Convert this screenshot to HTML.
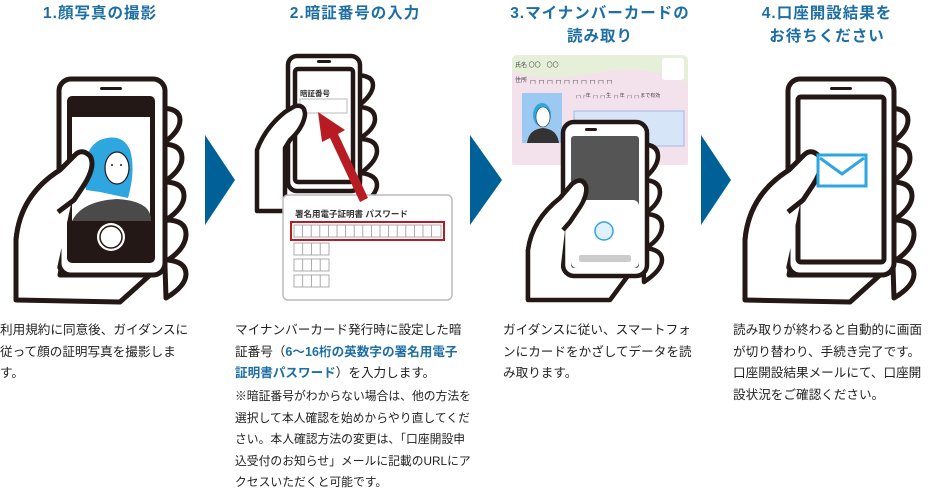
<!DOCTYPE html>
<html><head><meta charset="utf-8"><style>
html,body{margin:0;padding:0;background:#fff;width:931px;height:493px;overflow:hidden;position:relative;font-family:"Liberation Sans","Noto Sans CJK JP",sans-serif;}
.t{position:absolute;color:#1c6ea4;font-weight:bold;font-size:15.5px;text-align:center;line-height:23px;letter-spacing:1px;}
.p{position:absolute;font-size:12.6px;color:#222;line-height:21.5px;white-space:nowrap;}
.b{color:#1c6ea4;font-weight:bold;}
svg{position:absolute;left:0;top:0;}
</style></head><body>
<svg width="931" height="493" viewBox="0 0 931 493">
<g fill="#006199">
<polygon points="205,135 235,180 205,225"/>
<polygon points="470,135 502,180 470,225"/>
<polygon points="701,135 731,180 701,225"/>
</g>
<!-- Phone 1 -->
<g stroke="#231815" stroke-width="5" fill="#fff" stroke-linejoin="round">
<path d="M160,108 q20,0 20,12 q0,12 -18,24 q20,0 20,14 q0,12 -18,24 q20,0 20,14 q0,12 -18,24 q20,0 20,14 q0,14 -18,26 q18,2 18,14 q0,12 -20,24 Z"/>
<path d="M16,300 L16,240 Q20,195 60,170 L75,155 Q82,148 90,156 Q96,166 84,185 L74,200 L60,275 L150,275 L120,302 Z"/>
<rect x="59" y="79" width="106" height="196" rx="12"/>
</g>
<rect x="67" y="96" width="88" height="167" rx="5" fill="#231815"/>
<rect x="72" y="117" width="78" height="104" fill="#fff"/>
<path d="M86,190 q-6,-40 14,-50 q22,-8 30,10 q6,20 -2,48 L100,192 Z" fill="#2ea7e0"/>
<ellipse cx="117" cy="168" rx="12" ry="16" fill="#fff" stroke="#231815" stroke-width="1.2"/>
<circle cx="112" cy="165" r="1" fill="#231815"/><circle cx="121" cy="165" r="1" fill="#231815"/>
<path d="M72,221 q10,-20 45,-22 q35,2 34,22z" fill="#4a4a4a"/>
<circle cx="111" cy="237" r="14" fill="#fff"/><circle cx="111" cy="237" r="11" fill="#fff" stroke="#231815" stroke-width="1.5"/>
<rect x="100" y="87" width="22" height="3" rx="1.5" fill="#231815"/>
<path d="M18,298 L18,240 Q22,197 60,172 L75,157 Q82,150 88,157 Q93,166 82,184 L72,200 L56,273 Z" fill="#fff"/>
<path d="M16,300 L16,240 Q20,195 60,170 L75,155 Q82,148 90,156 Q96,166 84,185 L74,200 L58,212" fill="none" stroke="#231815" stroke-width="5" stroke-linejoin="round"/>
<!-- Phone 2 -->
<g stroke="#231815" stroke-width="4.5" fill="#fff" stroke-linejoin="round">
<path d="M355,75 q18,0 18,10 q0,10 -16,22 q18,0 18,12 q0,10 -16,20 q18,0 18,12 q0,10 -16,22 q16,2 16,12 q0,10 -18,22 Z"/>
<rect x="288" y="56" width="72" height="135" rx="9"/>
<rect x="295" y="69" width="58" height="113" rx="3"/>
</g>
<rect x="317" y="60" width="14" height="3" rx="1.5" fill="#231815"/>
<text x="300" y="96" font-size="7.5" font-weight="bold" fill="#333">暗証番号</text>
<rect x="300" y="99" width="47" height="14" fill="#fff" stroke="#bbb"/>
<path d="M257,211 L257,150 Q265,128 285,112 L295,106 Q305,104 305,115 Q303,128 290,140 L285,148 L285,211 Z" fill="#fff" stroke="#231815" stroke-width="4.5" stroke-linejoin="round"/>
<rect x="283" y="195" width="169" height="105" rx="5" fill="#fff" stroke="#bbb" stroke-width="1.5"/>
<polygon points="318,112 345,130 338,134 368,198 360,202 330,138 322,142" fill="#b81c22"/>
<text x="295" y="217" font-size="8.5" font-weight="bold" fill="#333">署名用電子証明書 パスワード</text>
<rect x="291" y="222" width="153" height="18" fill="#fff" stroke="#b81c22" stroke-width="2"/>
<g fill="none" stroke="#999" stroke-width="0.8">
<rect x="294" y="225" width="147" height="12"/>
<path d="M302.6,225v12M311.2,225v12M319.8,225v12M328.4,225v12M337,225v12M345.6,225v12M354.2,225v12M362.8,225v12M371.4,225v12M380,225v12M388.6,225v12M397.2,225v12M405.8,225v12M414.4,225v12M423,225v12M431.6,225v12"/>
<rect x="294" y="243" width="35" height="12"/><path d="M302.7,243v12M311.5,243v12M320.2,243v12"/>
<rect x="294" y="259" width="35" height="12"/><path d="M302.7,259v12M311.5,259v12M320.2,259v12"/>
<rect x="294" y="275" width="35" height="12"/><path d="M302.7,275v12M311.5,275v12M320.2,275v12"/>
</g>
<!-- Card 3 -->
<rect x="512" y="55" width="176" height="110" rx="5" fill="#e6f0d8"/>
<path d="M512,72 q40,10 90,0 q40,-8 86,10 L688,165 L512,165 Z" fill="#f6dff0" opacity="0.8"/>
<rect x="522" y="93" width="40" height="50" fill="#9cc9f2"/>
<path d="M527,143 q2,-14 16,-15 q14,1 16,15z" fill="#333"/>
<ellipse cx="542" cy="115" rx="9" ry="12" fill="#2ea7e0"/><ellipse cx="543" cy="117" rx="7" ry="10" fill="#fff" stroke="#333" stroke-width="0.6"/>
<rect x="574" y="111" width="110" height="35" fill="#d7e5f8" stroke="#8fb0e0" stroke-width="0.8"/>
<rect x="662" y="58" width="22" height="22" rx="3" fill="#fff"/>
<text x="515" y="67" font-size="6" fill="#444">氏名 〇〇　〇〇</text>
<text x="515" y="82" font-size="6" fill="#444">住所 ┌┐┌┐┌┐┌┐┌┐┌┐┌┐┌┐┌┐┌┐</text>
<text x="575" y="97" font-size="5" fill="#444">┌┐┌年 ┌┐┌┐生 ┌┐年 ┌┐┌┐まで有効</text>
<!-- Phone 3 -->
<g stroke="#231815" stroke-width="4.5" fill="#fff" stroke-linejoin="round">
<path d="M640,144 q18,0 18,12 q0,12 -16,24 q18,0 18,12 q0,12 -16,22 q18,0 18,12 q0,12 -16,22 q16,2 16,12 q0,10 -18,22 Z"/>
<path d="M528,300 L528,250 Q532,220 560,198 L572,184 Q582,176 586,186 Q588,196 578,210 L570,222 L568,273 L630,273 L610,300 Z"/>
<rect x="563" y="122" width="84" height="154" rx="11"/>
</g>
<rect x="571" y="136" width="68" height="132" rx="3" fill="#555"/>
<rect x="571" y="200" width="68" height="68" rx="6" fill="#fff"/>
<circle cx="604" cy="231" r="9" fill="#e0f0fc" stroke="#2ea7e0" stroke-width="1.5"/>
<rect x="579" y="255" width="52" height="7" rx="2" fill="#ccc"/>
<rect x="585" y="128" width="12" height="3" rx="1.5" fill="#231815"/>
<path d="M530,298 L530,250 Q534,222 560,200 L572,186 Q580,179 584,187 Q585,196 576,209 L566,222 L560,273 Z" fill="#fff"/>
<path d="M528,300 L528,250 Q532,220 560,198 L572,184 Q582,176 586,186 Q588,196 578,210 L570,222 L563,230" fill="none" stroke="#231815" stroke-width="4.5" stroke-linejoin="round"/>
<!-- Phone 4 -->
<g stroke="#231815" stroke-width="5" fill="#fff" stroke-linejoin="round">
<path d="M888,108 q20,0 20,12 q0,12 -18,24 q20,0 20,14 q0,12 -18,24 q20,0 20,14 q0,12 -18,24 q20,0 20,14 q0,14 -18,26 q18,2 18,14 q0,12 -20,24 Z"/>
<path d="M745,300 L745,240 Q749,195 789,170 L804,155 Q811,148 819,156 Q825,166 813,185 L803,200 L789,275 L880,275 L850,302 Z"/>
<rect x="788" y="79" width="106" height="196" rx="12"/>
<rect x="798" y="97" width="86" height="165" rx="3"/>
</g>
<rect x="830" y="87" width="22" height="3" rx="1.5" fill="#231815"/>
<path d="M747,298 L747,240 Q751,197 789,172 L804,157 Q811,150 817,157 Q822,166 811,184 L801,200 L785,273 Z" fill="#fff"/>
<path d="M745,300 L745,240 Q749,195 789,170 L804,155 Q811,148 819,156 Q825,166 813,185 L803,200 L788,212" fill="none" stroke="#231815" stroke-width="5" stroke-linejoin="round"/>
<rect x="818" y="155" width="48" height="31" fill="#fff" stroke="#2ea7e0" stroke-width="3"/>
<path d="M820,158 L842,174 L864,158" fill="none" stroke="#2ea7e0" stroke-width="3"/>
</svg>
<div class="t" style="left:0;top:2px;width:200px;">1.顔写真の撮影</div>
<div class="t" style="left:255px;top:2px;width:200px;">2.暗証番号の入力</div>
<div class="t" style="left:490px;top:2px;width:220px;">3.マイナンバーカードの<br>読み取り</div>
<div class="t" style="left:727px;top:2px;width:200px;">4.口座開設結果を<br>お待ちください</div>
<div class="p" style="left:0;top:320px;">利用規約に同意後、ガイダンスに<br>従って顔の証明写真を撮影しま<br>す。</div>
<div class="p" style="left:235px;top:320px;">マイナンバーカード発行時に設定した暗<br>証番号（<span class="b">6～16桁の英数字の署名用電子<br>証明書パスワード</span>）を入力します。</div>
<div class="p" style="left:235px;top:386px;font-size:11.8px;">※暗証番号がわからない場合は、他の方法を<br>選択して本人確認を始めからやり直してくだ<br>さい。本人確認方法の変更は、「口座開設申<br>込受付のお知らせ」メールに記載のURLにア<br>クセスいただくと可能です。</div>
<div class="p" style="left:503px;top:320px;">ガイダンスに従い、スマートフォ<br>ンにカードをかざしてデータを読<br>み取ります。</div>
<div class="p" style="left:733px;top:320px;">読み取りが終わると自動的に画面<br>が切り替わり、手続き完了です。<br>口座開設結果メールにて、口座開<br>設状況をご確認ください。</div>
</body></html>
